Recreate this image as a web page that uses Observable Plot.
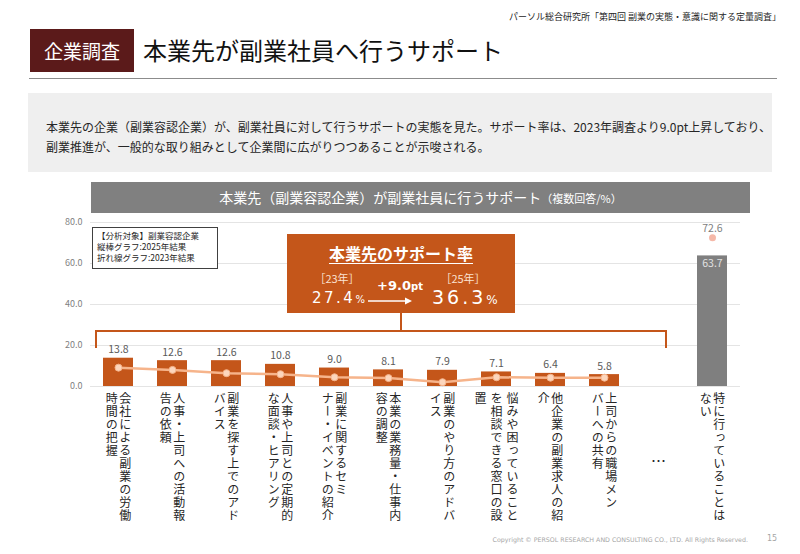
<!DOCTYPE html>
<html lang="ja">
<head>
<meta charset="utf-8">
<script src="https://cdn.jsdelivr.net/npm/d3@7"></script>
<script src="https://cdn.jsdelivr.net/npm/@observablehq/plot@0.6"></script>
<style>
  html, body { margin: 0; padding: 0; background: #fff; }
  body { position: relative; width: 800px; height: 554px; overflow: hidden;
         font-family: "Noto Sans CJK JP", "Noto Sans", sans-serif; color: #262626; }
  .abs { position: absolute; }
  #source { right: 19px; top: 10px; font-size: 9px; color: #262626; white-space: nowrap; }
  #tag { left: 30px; top: 29px; width: 104px; height: 43px; background: #5b1a1a; color: #fff;
         font-size: 19px; line-height: 43px; text-align: center; }
  #title { left: 143px; top: 34px; font-size: 24px; line-height: 32px; color: #111; white-space: nowrap; }
  #rule { left: 29px; top: 78px; width: 748px; height: 1px; background: #8c8c8c; }
  #desc { left: 28px; top: 93px; width: 744px; height: 79px; background: #efefef; }
  #desc p { margin: 0; position: absolute; left: 18px; top: 24px; font-size: 12px; line-height: 20px;
            white-space: nowrap; color: #262626; }
  #ctitle { left: 91px; top: 182px; width: 659px; height: 31px; background: #808080; color: #fff;
            text-align: center; font-size: 14px; line-height: 31px; white-space: nowrap; }
  #ctitle small { font-size: 11px; }
  #chart { left: 0; top: 215px; }
  #legend { left: 92px; top: 227px; width: 120px; height: 38px; border: 1px solid #404040; background: #fff;
            font-size: 8.5px; line-height: 11px; padding: 2px 0 0 4px; box-sizing: content-box; z-index: 2;
            white-space: nowrap; color: #262626; }
  #legend div { height: 11px; }
  #bracket { left: 95px; top: 330px; width: 572px; height: 18px; box-sizing: border-box;
             border: 2px solid #c4561a; border-bottom: none; z-index: 1; }
  #stem { left: 400px; top: 313px; width: 2px; height: 18px; background: #c4561a; z-index: 1; }
  #callout { left: 287px; top: 234px; width: 228px; height: 79px; background: #c4561a; color: #fff; z-index: 2; }
  #callout .head { position: absolute; left: 0; width: 228px; top: 8px; text-align: center; font-size: 16px;
                   line-height: 22px; font-weight: 700; text-decoration: underline; text-decoration-thickness: 1px;
                   text-underline-offset: 3px; }
  #callout .yr { position: absolute; top: 37px; width: 60px; margin-left: -30px; text-align: center;
                 font-size: 11px; line-height: 14px; color: #fbe2d2; }
  #callout .num { position: absolute; font-family: "DejaVu Sans", sans-serif; font-weight: 400; white-space: nowrap; }
  #callout .num small { font-size: 10px; letter-spacing: 0; }
  #callout .diff { position: absolute; left: 83px; width: 60px; top: 44px; text-align: center; font-weight: 700;
                   font-family: "DejaVu Sans", sans-serif; font-size: 13px; line-height: 16px; white-space: nowrap; }
  #callout .diff small { font-size: 10px; }
  #callout svg { position: absolute; left: 0; top: 0; }
  #copy { right: 52px; top: 536px; font-family: "DejaVu Sans", sans-serif; font-size: 6.3px; color: #a6a6a6; white-space: nowrap; }
  #page { left: 767px; top: 534px; font-family: "DejaVu Sans", sans-serif; font-size: 8px; color: #a6a6a6; }
  g[aria-description="vlabel"] text { writing-mode: vertical-rl; letter-spacing: 1px; }
</style>
</head>
<body>
<div id="source" class="abs">パーソル総合研究所「第四回 副業の実態・意識に関する定量調査」</div>
<div id="tag" class="abs">企業調査</div>
<div id="title" class="abs">本業先が副業社員へ行うサポート</div>
<div id="rule" class="abs"></div>
<div id="desc" class="abs"><p id="descText"></p></div>
<div id="ctitle" class="abs">本業先（副業容認企業）が副業社員に行うサポート<small>（複数回答/%）</small></div>
<div id="chart" class="abs"></div>
<div id="legend" class="abs"></div>
<div id="bracket" class="abs"></div>
<div id="stem" class="abs"></div>
<div id="callout" class="abs"></div>
<div id="copy" class="abs">Copyright © PERSOL RESEARCH AND CONSULTING CO., LTD. All Rights Reserved.</div>
<div id="page" class="abs">15</div>

<script>
// Support items offered by the main employer (multiple answers, %)
const categories = [
  "会社による副業の労働時間の把握",
  "人事・上司への活動報告の依頼",
  "副業を探す上でのアドバイス",
  "人事や上司との定期的な面談・ヒアリング",
  "副業に関するセミナー・イベントの紹介",
  "本業の業務量・仕事内容の調整",
  "副業のやり方のアドバイス",
  "悩みや困っていることを相談できる窓口の設置",
  "他企業の副業求人の紹介",
  "上司からの職場メンバーへの共有"
];
// Tick labels as they are set in vertical columns (right to left)
const labelColumns = [
  ["会社による副業の労働", "時間の把握"],
  ["人事・上司への活動報", "告の依頼"],
  ["副業を探す上でのアド", "バイス"],
  ["人事や上司との定期的", "な面談・ヒアリング"],
  ["副業に関するセミ", "ナー・イベントの紹介"],
  ["本業の業務量・仕事内", "容の調整"],
  ["副業のやり方のアドバ", "イス"],
  ["悩みや困っていること", "を相談できる窓口の設", "置"],
  ["他企業の副業求人の紹", "介"],
  ["上司からの職場メン", "バーへの共有"]
];
const values2025 = [13.8, 12.6, 12.6, 10.8, 9.0, 8.1, 7.9, 7.1, 6.4, 5.8];
const values2023 = [9.2, 8.1, 6.5, 6.0, 4.5, 4.1, 2.1, 4.5, 4.3, 4.3];

const noneLabel = "特に行っていることはない";
const noneColumns = ["特に行っていることは", "ない"];
const none2025 = 63.7;
const none2023 = 72.6;

const gapKey = "…";
const yTicks = [0, 20, 40, 60, 80];

// Headline support rate
const rate2023 = 27.4;
const rate2025 = 36.3;
const rateDiff = 9.0;

const legendLines = ["【分析対象】副業容認企業", "縦棒グラフ:2025年結果", "折れ線グラフ:2023年結果"];
const descLines = [
  "本業先の企業（副業容認企業）が、副業社員に対して行うサポートの実態を見た。サポート率は、2023年調査より9.0pt上昇しており、",
  "副業推進が、一般的な取り組みとして企業間に広がりつつあることが示唆される。"
];

// ---- text blocks ----
document.getElementById("descText").innerHTML = descLines.join("<br>");
document.getElementById("legend").innerHTML = legendLines.map(t => `<div>${t}</div>`).join("");

const fmt1 = d3.format(".1f");
document.getElementById("callout").innerHTML = `
  <div class="head">本業先のサポート率</div>
  <div class="yr" style="left:50px">［23年］</div>
  <div class="yr" style="left:176px">［25年］</div>
  <div class="num" style="left:25px; top:54px; font-size:15px; letter-spacing:2.5px; line-height:20px">${fmt1(rate2023)}<small>%</small></div>
  <div class="num" style="left:145px; top:51px; font-size:19px; letter-spacing:3px; line-height:24px">${fmt1(rate2025)}<small style="font-size:12px">%</small></div>
  <div class="diff">+${fmt1(rateDiff)}<small>pt</small></div>
  <svg width="228" height="79">
    <line x1="81" y1="67" x2="123" y2="67" stroke="#fff" stroke-width="1.3"/>
    <path d="M118,63.5 L125,67 L118,70.5 Z" fill="#fff"/>
  </svg>`;

// ---- chart ----
const rows = categories.map((cat, i) => ({cat, v25: values2025[i], v23: values2023[i]}));
const noneRow = {cat: noneLabel, v25: none2025, v23: none2023};

const labelRows = [];
[...categories.map((cat, i) => ({cat, cols: labelColumns[i]})), {cat: noneLabel, cols: noneColumns}]
  .forEach(({cat, cols}) => cols.forEach((text, j) => labelRows.push({cat, text, n: cols.length, j})));

const colStep = {2: 13.5, 3: 16};
const labelMarks = [];
for (const n of [2, 3]) {
  for (let j = 0; j < n; j++) {
    labelMarks.push(Plot.text(labelRows.filter(d => d.n === n && d.j === j), {
      x: "cat", text: "text", frameAnchor: "bottom",
      dx: ((n - 1) / 2 - j) * colStep[n], dy: 6,
      textAnchor: "start", lineAnchor: "bottom",
      fontSize: 12, fill: "#262626", ariaDescription: "vlabel"
    }));
  }
}

const chart = Plot.plot({
  width: 800,
  height: 320,
  marginTop: 7,
  marginBottom: 149,
  marginLeft: 90,
  marginRight: 60,
  style: {fontFamily: "'Noto Sans CJK JP', sans-serif", fontSize: "9px", color: "#7f7f7f", background: "transparent", overflow: "visible"},
  x: {domain: [...categories, gapKey, noneLabel], paddingInner: 0.45, paddingOuter: 0.225, axis: null},
  y: {domain: [0, 80], ticks: yTicks, tickFormat: fmt1, tickSize: 0, tickPadding: 8, label: null},
  marks: [
    Plot.ruleY(yTicks, {stroke: "#e4e4e4", strokeWidth: 1}),
    Plot.barY(rows, {x: "cat", y: "v25", fill: "#c4561a"}),
    Plot.barY([noneRow], {x: "cat", y: "v25", fill: "#7f7f7f"}),
    Plot.line(rows, {x: "cat", y: "v23", stroke: "#f6b48b", strokeWidth: 2.5}),
    Plot.dot(rows, {x: "cat", y: "v23", r: 3.5, fill: "#fcd6bd", stroke: "#f6b48b", strokeWidth: 1}),
    Plot.dot([noneRow], {x: "cat", y: "v23", r: 3.5, fill: "#f5b8a8"}),
    Plot.text(rows, {x: "cat", y: "v25", text: d => fmt1(d.v25), dy: -5, lineAnchor: "bottom", fill: "#595959", fontSize: 10.5}),
    Plot.text([noneRow], {x: "cat", y: "v25", text: d => fmt1(d.v25), dy: 11, lineAnchor: "bottom", fill: "#e2e2e2", fontSize: 10.5}),
    Plot.text([noneRow], {x: "cat", y: "v23", text: d => fmt1(d.v23), dy: -6, lineAnchor: "bottom", fill: "#7f7f7f", fontSize: 10.5}),
    Plot.text([gapKey], {x: d => d, text: d => d, frameAnchor: "bottom", dy: 76, lineAnchor: "middle", fill: "#262626", fontSize: 15}),
    ...labelMarks
  ]
});
document.getElementById("chart").appendChild(chart);
</script>
</body>
</html>
